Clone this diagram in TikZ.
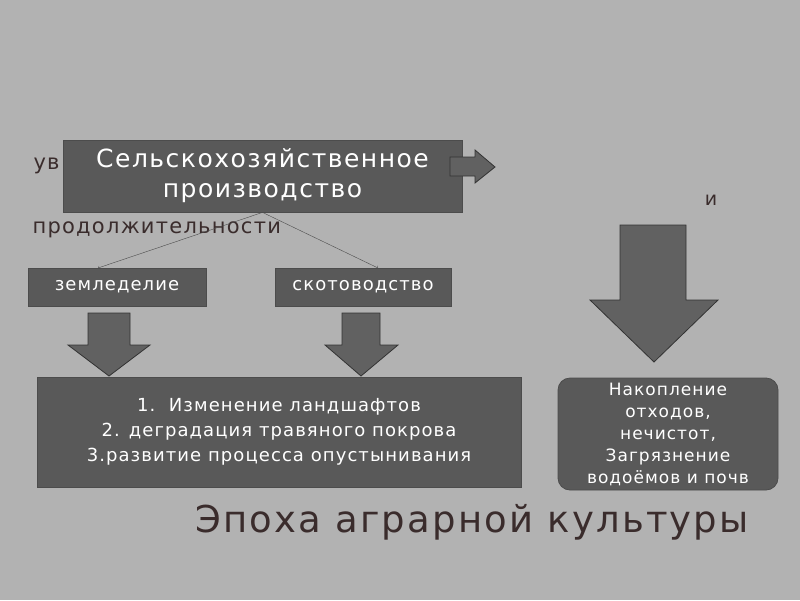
\documentclass[tikz,border=0pt]{standalone}
\usepackage{fontspec}
\setmainfont{DejaVu Sans}[LetterSpace=6]
\definecolor{dk}{HTML}{3A2C2C}
\begin{document}
\begin{tikzpicture}[x=1pt,y=-1pt,
 box/.style={draw=black!70,fill=black!65,text=white,inner sep=0pt,line width=0.8pt},
 bigarr/.style={fill=black!62,draw=black!80,line width=0.8pt}]
\useasboundingbox (0,0) rectangle (800,600);
\fill[black!30] (0,0) rectangle (800,600);
\node[anchor=west,font=\fontsize{21}{22}\selectfont,text=dk] (uv) at (30,166) {ув};
\node[anchor=west,font=\fontsize{21}{22}\selectfont,text=dk] (pr) at (29,230) {продолжительности};
\node[font=\fontsize{19}{20}\selectfont,text=dk] (i) at (711,200) {и};
\node[box,minimum width=399,minimum height=72,align=center,font=\fontsize{25}{30}\selectfont] (s) at (262.5,176) {Сельскохозяйственное\\производство};
\draw[bigarr] (450,157)--(475,157)--(475,150)--(495,167)--(475,183)--(475,176)--(450,176)--cycle;
\node[box,minimum width=178,minimum height=38,font=\fontsize{18}{18}\selectfont] (z) at (117,287) {земледелие};
\node[box,minimum width=176,minimum height=38,font=\fontsize{18}{18}\selectfont] (k) at (363,287) {скотоводство};
\coordinate (ze) at (98,268);
\coordinate (ke) at (378,268);
\draw[->,black!70] (s.south) -- (ze);
\draw[->,black!70] (s.south) -- (ke);
\draw[bigarr] (88,313)--(130,313)--(130,345)--(150,345)--(109,376)--(68,345)--(88,345)--cycle;
\draw[bigarr] (342,313)--(380,313)--(380,345)--(398,345)--(361,376)--(325,345)--(342,345)--cycle;
\draw[bigarr] (620,225)--(686,225)--(686,300)--(718,300)--(654,362)--(590,300)--(620,300)--cycle;
\node[box,minimum width=484,minimum height=110,align=center,font=\fontsize{18}{25}\selectfont] (b) at (279,432) {1.\ \ Изменение ландшафтов\\2. деградация травяного покрова\\3.развитие процесса опустынивания};
\node[box,rounded corners=12,minimum width=220,minimum height=112,align=center,font=\fontsize{17}{22}\selectfont] (n) at (668,434) {Накопление\\отходов,\\нечистот,\\Загрязнение\\водоёмов и почв};
\node[font=\fontsize{37}{44}\selectfont,text=dk] (t) at (472,522) {Эпоха аграрной культуры};
\end{tikzpicture}
\end{document}
